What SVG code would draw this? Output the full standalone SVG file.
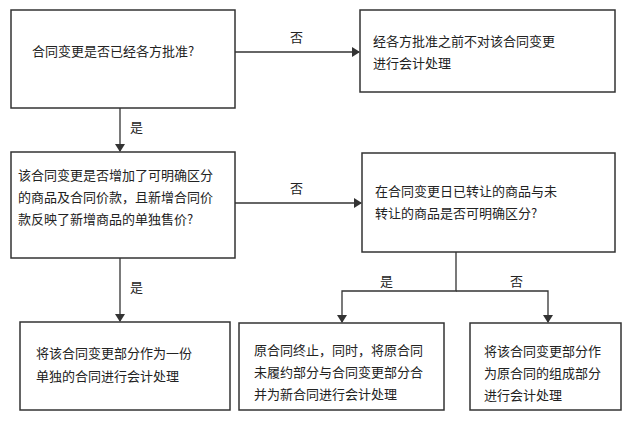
<svg xmlns="http://www.w3.org/2000/svg" width="633" height="423" viewBox="0 0 633 423">
<defs><marker id="ah" markerWidth="8" markerHeight="10" refX="7" refY="5" orient="auto" markerUnits="userSpaceOnUse"><path d="M0,0 L8,5 L0,10 Z" fill="#333"/></marker>
<style>.b{fill:#fff;stroke:#333;stroke-width:1.5}.t{font-family:"Noto Sans CJK SC",sans-serif;font-size:13px;fill:#222}.c{fill:none;stroke:#333;stroke-width:1.3}</style></defs>
<rect width="633" height="423" fill="#fff"/>
<g id="n1"><rect class="b" x="11" y="10" width="224" height="98"/><text class="t" x="32" y="56">合同变更是否已经各方批准?</text></g>
<g id="n2"><rect class="b" x="360" y="10" width="255" height="82"/><text class="t" x="373" y="46">经各方批准之前不对该合同变更</text><text class="t" x="373" y="68">进行会计处理</text></g>
<g id="n3"><rect class="b" x="11" y="152" width="224" height="106"/><text class="t" x="18" y="180">该合同变更是否增加了可明确区分</text><text class="t" x="18" y="202">的商品及合同价款，且新增合同价</text><text class="t" x="18" y="224">款反映了新增商品的单独售价?</text></g>
<g id="n4"><rect class="b" x="362" y="153" width="253" height="99"/><text class="t" x="375" y="196">在合同变更日已转让的商品与未</text><text class="t" x="375" y="218">转让的商品是否可明确区分?</text></g>
<g id="n5"><rect class="b" x="20" y="322" width="210" height="88"/><text class="t" x="36" y="358">将该合同变更部分作为一份</text><text class="t" x="36" y="381">单独的合同进行会计处理</text></g>
<g id="n6"><rect class="b" x="239" y="323" width="205" height="87"/><text class="t" x="254" y="355">原合同终止，同时，将原合同</text><text class="t" x="254" y="377">未履约部分与合同变更部分合</text><text class="t" x="254" y="399">并为新合同进行会计处理</text></g>
<g id="n7"><rect class="b" x="470" y="323" width="151" height="87"/><text class="t" x="484" y="356">将该合同变更部分作</text><text class="t" x="484" y="378">为原合同的组成部分</text><text class="t" x="484" y="400">进行会计处理</text></g>
<g id="edges">
<path class="c" d="M235,52 H359" marker-end="url(#ah)"/><text class="t" x="290" y="42">否</text>
<path class="c" d="M120,108 V151" marker-end="url(#ah)"/><text class="t" x="130" y="132">是</text>
<path class="c" d="M235,203 H361" marker-end="url(#ah)"/><text class="t" x="290" y="193">否</text>
<path class="c" d="M120,258 V321" marker-end="url(#ah)"/><text class="t" x="130" y="292">是</text>
<path class="c" d="M456,252 V291 H342 V322" marker-end="url(#ah)"/>
<path class="c" d="M456,291 H548 V322" marker-end="url(#ah)"/>
<text class="t" x="380" y="286">是</text><text class="t" x="510" y="286">否</text>
</g>
</svg>
